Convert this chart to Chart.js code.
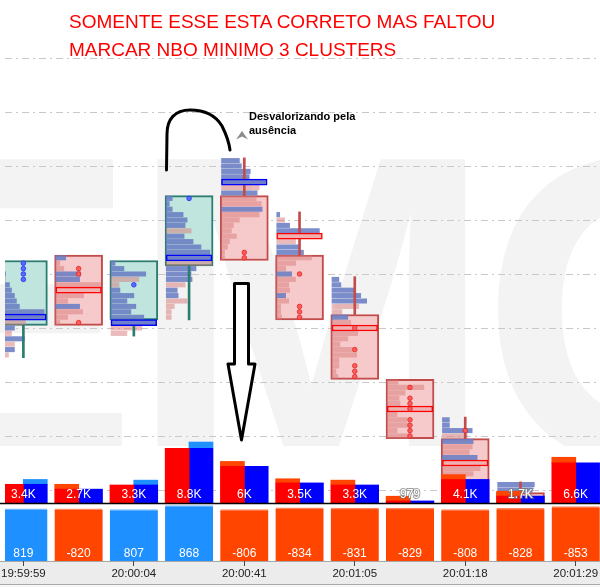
<!DOCTYPE html>
<html>
<head>
<meta charset="utf-8">
<script src="https://cdn.jsdelivr.net/npm/chart.js@4.4.1/dist/chart.umd.min.js"></script>
<style>
  body { margin: 0; background: #fff; }
  #wrap { position: relative; width: 600px; height: 587px; overflow: hidden; }
  #c { position: absolute; left: 0; top: 0; }
  .title { position: absolute; left: 69px; top: 7.6px; color: #ff0000; font: 19px/28.5px "Liberation Sans"; white-space: nowrap; }
  .note { position: absolute; left: 249px; top: 110px; color: #000; font: bold 11px/13.5px "Liberation Sans"; white-space: nowrap; }
  svg { position: absolute; left: 0; top: 0; pointer-events: none; }
</style>
</head>
<body>
<div id="wrap">
  <canvas id="c" width="600" height="587"></canvas>
  <div class="title">SOMENTE ESSE ESTA CORRETO MAS FALTOU<br>MARCAR NBO MINIMO 3 CLUSTERS</div>
  <div class="note">Desvalorizando pela<br>ausência</div>
  <svg width="600" height="587" viewBox="0 0 600 587">
    <path d="M166.5,170 L167,134 C167,119 175,110 190,110 C206,110 216,116 222,126 C226,134 229,142 230,150" fill="none" stroke="#000" stroke-width="3" stroke-linecap="round"/>
    <path d="M234.5,283.5 L248.5,283.5 L248.5,364 L255,364 L241.5,440 L228,364 L234.5,364 Z" fill="#fff" stroke="#000" stroke-width="3" stroke-linejoin="round"/>
    <path d="M236,139.5 L242,131 L248,139.5 L242,136.5 Z" fill="#8c8c8c"/>
  </svg>
</div>
<script>
// one entry per column (cluster)
const cols = [0, 1, 2, 3, 4, 5, 6, 7, 8, 9, 10];
const candleOpen  = [115.5, 121.5, 116, 121, 127,   121.5, 116,   110, 104.5, 99.5,  null];
const candleClose = [121,   115.5, 121, 127, 121.5, 116,   110.5, 105, 99,    99,    null];
const candleHigh  = [121,   121.5, 121, 127, 130.5, 125.5, 119.5, 110, 106.5, 100.5, null];
const candleLow   = [112.5, 115.5, 114.5, 116, 121.5, 116, 110.5, 105, 99,    99,    null];

// footprint rows, from the top price down in 0.5 steps; + = buy (blue), - = sell (pink)
const fpTop = [121, 121.5, 121, 127, 130.5, 125.5, 119.5, 110, 106.5, 100.5, null];
const fpRows = [
  [3, -4, 5, -5, 9, 11, 14, 16, 19, 44, 40, -25, 14, -11, 24, -14, 14, -8],
  [10, -4, -8, 25, 24, -45, -44, -28, -12, 24, -27, -12, -4],
  [4, 13, 35, -28, -8, 9, 23, 16, 25, 20, 33, 45, -31, -16],
  [6, 3, 6, 17, 21, 19, -25, 18, 27, 35, 44, 46, -46, 30, 25, 26, -19, 11, 12, -21, -8, -5, -5],
  [18, 20, 29, 28, 45, -38, 36, -35, -40, 41, -38, -18, -12, -10, -15, -8, -6, -3, -3],
  [3, -8, 13, 43, -44, -19, 22, 27, -35, -19, -9, 15, -19, -12, -13, 9, -12, -4, -4, -5],
  [7, 9, 23, 29, 35, -27, -10, 16, -19, -44, -26, -16, -8, -21, -25, -7, -7, -4, -6],
  [-11, -37, -18, -12, -13, -44, -10, -20, -23, -10, -23],
  [7, 7, 30, -25, 31, -30, -27, 35, -44, -38, -31, -20, -15, -12, -8, -5],
  [37, 35],
  []
];
const pocPrice = [116, 118.5, 115.5, 121.5, 128.5, 123.5, 115, 107.5, 102.5, null, null];
const dotPrices = [
  [121, 120.5, 120, 119.5], [120.5, 120, 115.5], [119], [127], [122, 121.5],
  [120, 117, 116.5, 116], [115, 113, 111.5, 111, 110.5],
  [109.5, 108.5, 108, 107.5, 106.5, 106, 105.5, 105], [105.5], [], []
];

const sellVol = [2700, 2700, 2600, 7900, 6000, 3500, 3300, 979, 4100, 1700, 6600];
const buyVol  = [3400, 2000, 3300, 8800, 5300, 2900, 2600, 300, 3400, 1000, 5800];
const delta   = [819, -820, 807, 868, -806, -834, -831, -829, -808, -828, -853];

const tickCols   = [0, 2, 4, 6, 8, 10];
const tickLabels = ['19:59:59', '20:00:04', '20:00:41', '20:01:05', '20:01:18', '20:01:29'];
const priceGrid  = [100, 105, 110, 115, 120, 125, 130, 135, 140];

// layout of the panels
const W = 600, areaBottom = 561;
const xMin = -0.332, xMax = 10.44;
const colPx = W / (xMax - xMin);
const px = p => p / colPx;
const priceRef = 100, priceRefY = 490, pxPerPoint = 10.8;
const pMax = priceRef + priceRefY / pxPerPoint;
const pMin = priceRef - (areaBottom - priceRefY) / pxPerPoint;
const volZeroY = 503, volPxPer1000 = 6.93;
const vMax = volZeroY / volPxPer1000 * 1000;
const vMin = -(areaBottom - volZeroY) / volPxPer1000 * 1000;
const deltaPanelPx = 55.3;
const dMax = Math.max(...delta.map(Math.abs)) * areaBottom / deltaPanelPx;
const priceClip = { left: 0, top: 0, right: 0, bottom: -(areaBottom - volZeroY) };

const upFill = '#c0e4de', upLine = '#2b7d70';
const dnFill = '#f6caca', dnLine = '#c24c4c';
const rowBuy = 'rgba(105,125,195,0.88)', rowSell = 'rgba(215,120,120,0.5)';

const isUp = i => candleClose[i] > candleOpen[i];
const fmtK = v => v >= 1000 ? (Math.round(v / 100) / 10) + 'K' : String(v);

const bodies = [], wicks = [];
cols.forEach(i => {
  if (candleOpen[i] == null) return;
  const up = isUp(i);
  const top = Math.max(candleOpen[i], candleClose[i]) + 0.25;
  const bot = Math.min(candleOpen[i], candleClose[i]) - 0.25;
  bodies.push({ x: i, y: [bot, top], up });
  if (candleHigh[i] + 0.25 > top) wicks.push({ x: i, y: [top, candleHigh[i] + 0.25], up });
  if (candleLow[i] - 0.25 < bot) wicks.push({ x: i, y: [candleLow[i] - 0.25, bot], up });
});

const buyRows = [], sellRows = [], pocs = [], dots = [];
cols.forEach(i => {
  const start = i - px(23);
  fpRows[i].forEach((v, k) => {
    const pt = { y: fpTop[i] - k * 0.5, x: [start, start + px(Math.abs(v))] };
    (v > 0 ? buyRows : sellRows).push(pt);
  });
  if (pocPrice[i] != null) {
    const k = Math.round((fpTop[i] - pocPrice[i]) / 0.5);
    pocs.push({ y: pocPrice[i], x: [i - px(23), i + px(23)], buy: fpRows[i][k] > 0 });
  }
  dotPrices[i].forEach(p => dots.push({ x: i, y: p, up: isUp(i) }));
});

const vHalf = px(12);
const sellBase = cols.map(i => ({ x: i - vHalf, y: [0, Math.min(sellVol[i], buyVol[i])] }));
const buyBase  = cols.map(i => ({ x: i + vHalf, y: [0, Math.min(sellVol[i], buyVol[i])] }));
const sellExtra = cols.filter(i => sellVol[i] > buyVol[i]).map(i => ({ x: i - vHalf, y: [buyVol[i], sellVol[i]] }));
const buyExtra  = cols.filter(i => buyVol[i] > sellVol[i]).map(i => ({ x: i + vHalf, y: [sellVol[i], buyVol[i]] }));

const bgPlugin = {
  id: 'bg',
  beforeDraw(chart) {
    const { ctx, chartArea: a } = chart;
    ctx.save();
    ctx.fillStyle = '#ececec';
    ctx.fillRect(0, a.bottom, chart.width, 23);
    ctx.fillStyle = '#f7f7f7';
    ctx.fillRect(0, a.bottom + 23, chart.width, chart.height - a.bottom - 23);
    ctx.strokeStyle = '#a8a8a8';
    ctx.lineWidth = 1;
    ctx.beginPath();
    ctx.moveTo(0, a.bottom + 0.5); ctx.lineTo(chart.width, a.bottom + 0.5);
    ctx.moveTo(0, a.bottom + 23.5); ctx.lineTo(chart.width, a.bottom + 23.5);
    ctx.stroke();
    // watermark
    ctx.beginPath();
    ctx.rect(0, 0, chart.width, 446);
    ctx.clip();
    ctx.fillStyle = '#f3f3f3';
    ctx.font = 'bold 440px "Liberation Sans"';
    ctx.textBaseline = 'alphabetic';
    ctx.textAlign = 'right';
    ctx.fillText('E', 139, 462);
    ctx.textAlign = 'left';
    ctx.fillText('M', 128, 462);
    ctx.fillText('C', 480, 462);
    ctx.restore();
  }
};

const labelPlugin = {
  id: 'labels',
  afterDatasetsDraw(chart) {
    const { ctx, scales: { x, yVol, yDelta } } = chart;
    ctx.save();
    const y0 = yVol.getPixelForValue(0);
    ctx.strokeStyle = '#000';
    ctx.lineWidth = 1.5;
    ctx.beginPath();
    ctx.moveTo(0, y0 + 0.5); ctx.lineTo(chart.width, y0 + 0.5);
    ctx.stroke();
    ctx.font = '12px "Liberation Sans"';
    ctx.textAlign = 'center';
    ctx.textBaseline = 'middle';
    cols.forEach(i => {
      const cx = x.getPixelForValue(i);
      const v = Math.max(sellVol[i], buyVol[i]);
      const txt = fmtK(v);
      if (y0 - yVol.getPixelForValue(v) < 12) {
        ctx.strokeStyle = 'rgba(120,120,120,0.7)';
        ctx.lineWidth = 2;
        ctx.strokeText(txt, cx, y0 - 8);
      }
      ctx.fillStyle = '#fff';
      ctx.fillText(txt, cx, y0 - 8);
      ctx.fillText(String(delta[i]), cx, yDelta.getPixelForValue(0) - 7.5);
    });
    ctx.restore();
  }
};

new Chart(document.getElementById('c'), {
  type: 'bar',
  data: {
    datasets: [
      {
        label: 'delta', data: cols.map(i => ({ x: i, y: Math.abs(delta[i]), pos: delta[i] >= 0 })),
        yAxisID: 'yDelta', barThickness: 48, order: 0,
        backgroundColor: c => c.raw.pos ? '#1e90ff' : '#ff4500',
        borderColor: c => c.raw.pos ? '#72b8ff' : '#ff8660',
        borderWidth: { top: 1.5, left: 0, right: 0, bottom: 0 }, borderSkipped: false
      },
      { label: 'sell', data: sellBase, yAxisID: 'yVol', barThickness: 24, backgroundColor: '#ff0000', order: 1 },
      { label: 'buy', data: buyBase, yAxisID: 'yVol', barThickness: 24, backgroundColor: '#0000ff', order: 1 },
      { label: 'sell+', data: sellExtra, yAxisID: 'yVol', barThickness: 24, backgroundColor: '#ff4500', order: 1 },
      { label: 'buy+', data: buyExtra, yAxisID: 'yVol', barThickness: 24, backgroundColor: '#1e90ff', order: 1 },
      {
        type: 'scatter', label: 'dots', data: dots, yAxisID: 'yPrice', order: 2, clip: priceClip,
        pointRadius: 2.3, pointBorderWidth: 0.8,
        pointBackgroundColor: c => c.raw && c.raw.up ? '#5a6cff' : '#ff5c5c',
        pointBorderColor: c => c.raw && c.raw.up ? '#2030ee' : '#e02424'
      },
      {
        label: 'poc', indexAxis: 'y', data: pocs, yAxisID: 'yPrice', xAxisID: 'x', order: 3, clip: priceClip,
        barThickness: 6, borderWidth: 1.5, borderSkipped: false,
        backgroundColor: c => c.raw.buy ? '#7080c8' : '#eeb0b0',
        borderColor: c => c.raw.buy ? '#0000ff' : '#ff0000'
      },
      {
        label: 'wick', data: wicks, yAxisID: 'yPrice', order: 4, clip: priceClip, barThickness: 2,
        backgroundColor: c => c.raw.up ? upLine : dnLine
      },
      { label: 'rows buy', indexAxis: 'y', data: buyRows, yAxisID: 'yPrice', xAxisID: 'x', order: 5, clip: priceClip, barThickness: 4.4, backgroundColor: rowBuy },
      { label: 'rows sell', indexAxis: 'y', data: sellRows, yAxisID: 'yPrice', xAxisID: 'x', order: 5, clip: priceClip, barThickness: 4.4, backgroundColor: rowSell },
      {
        label: 'body', data: bodies, yAxisID: 'yPrice', order: 6, clip: priceClip,
        barThickness: 48, borderWidth: 2, borderSkipped: false,
        backgroundColor: c => c.raw.up ? upFill : dnFill,
        borderColor: c => c.raw.up ? upLine : dnLine
      }
    ]
  },
  options: {
    responsive: false,
    animation: false,
    events: [],
    layout: { autoPadding: false, padding: { left: 0, right: 0, top: 0, bottom: 4 } },
    datasets: { bar: { grouped: false } },
    plugins: { legend: { display: false }, tooltip: { enabled: false } },
    scales: {
      x: {
        type: 'linear', axis: 'x', position: 'bottom', min: xMin, max: xMax, offset: false, bounds: 'data',
        afterFit: s => { s.height = 22; },
        afterBuildTicks: s => { s.ticks = tickCols.map(v => ({ value: v })); },
        ticks: {
          autoSkip: false, maxRotation: 0, padding: 1,
          color: '#222', font: { family: 'Liberation Sans', size: 11.5 },
          callback: v => { const k = tickCols.indexOf(v); return k < 0 ? '' : tickLabels[k]; }
        },
        grid: { drawOnChartArea: false, drawTicks: true, tickLength: 5, color: '#444', offset: false },
        border: { display: false }
      },
      yPrice: {
        type: 'linear', axis: 'y', position: 'right', min: pMin, max: pMax, offset: false, bounds: 'data',
        afterFit: s => { s.width = 0; },
        afterBuildTicks: s => { s.ticks = priceGrid.map(v => ({ value: v })); },
        ticks: { display: false },
        grid: { drawTicks: false, lineWidth: 1, color: '#c8c8c8', offset: false },
        border: { display: false, dash: [7, 4, 2, 4] }
      },
      yVol: { type: 'linear', axis: 'y', display: false, offset: false, bounds: 'data', min: vMin, max: vMax },
      yDelta: { type: 'linear', axis: 'y', display: false, offset: false, bounds: 'data', min: 0, max: dMax }
    }
  },
  plugins: [bgPlugin, labelPlugin]
});
</script>
</body>
</html>
